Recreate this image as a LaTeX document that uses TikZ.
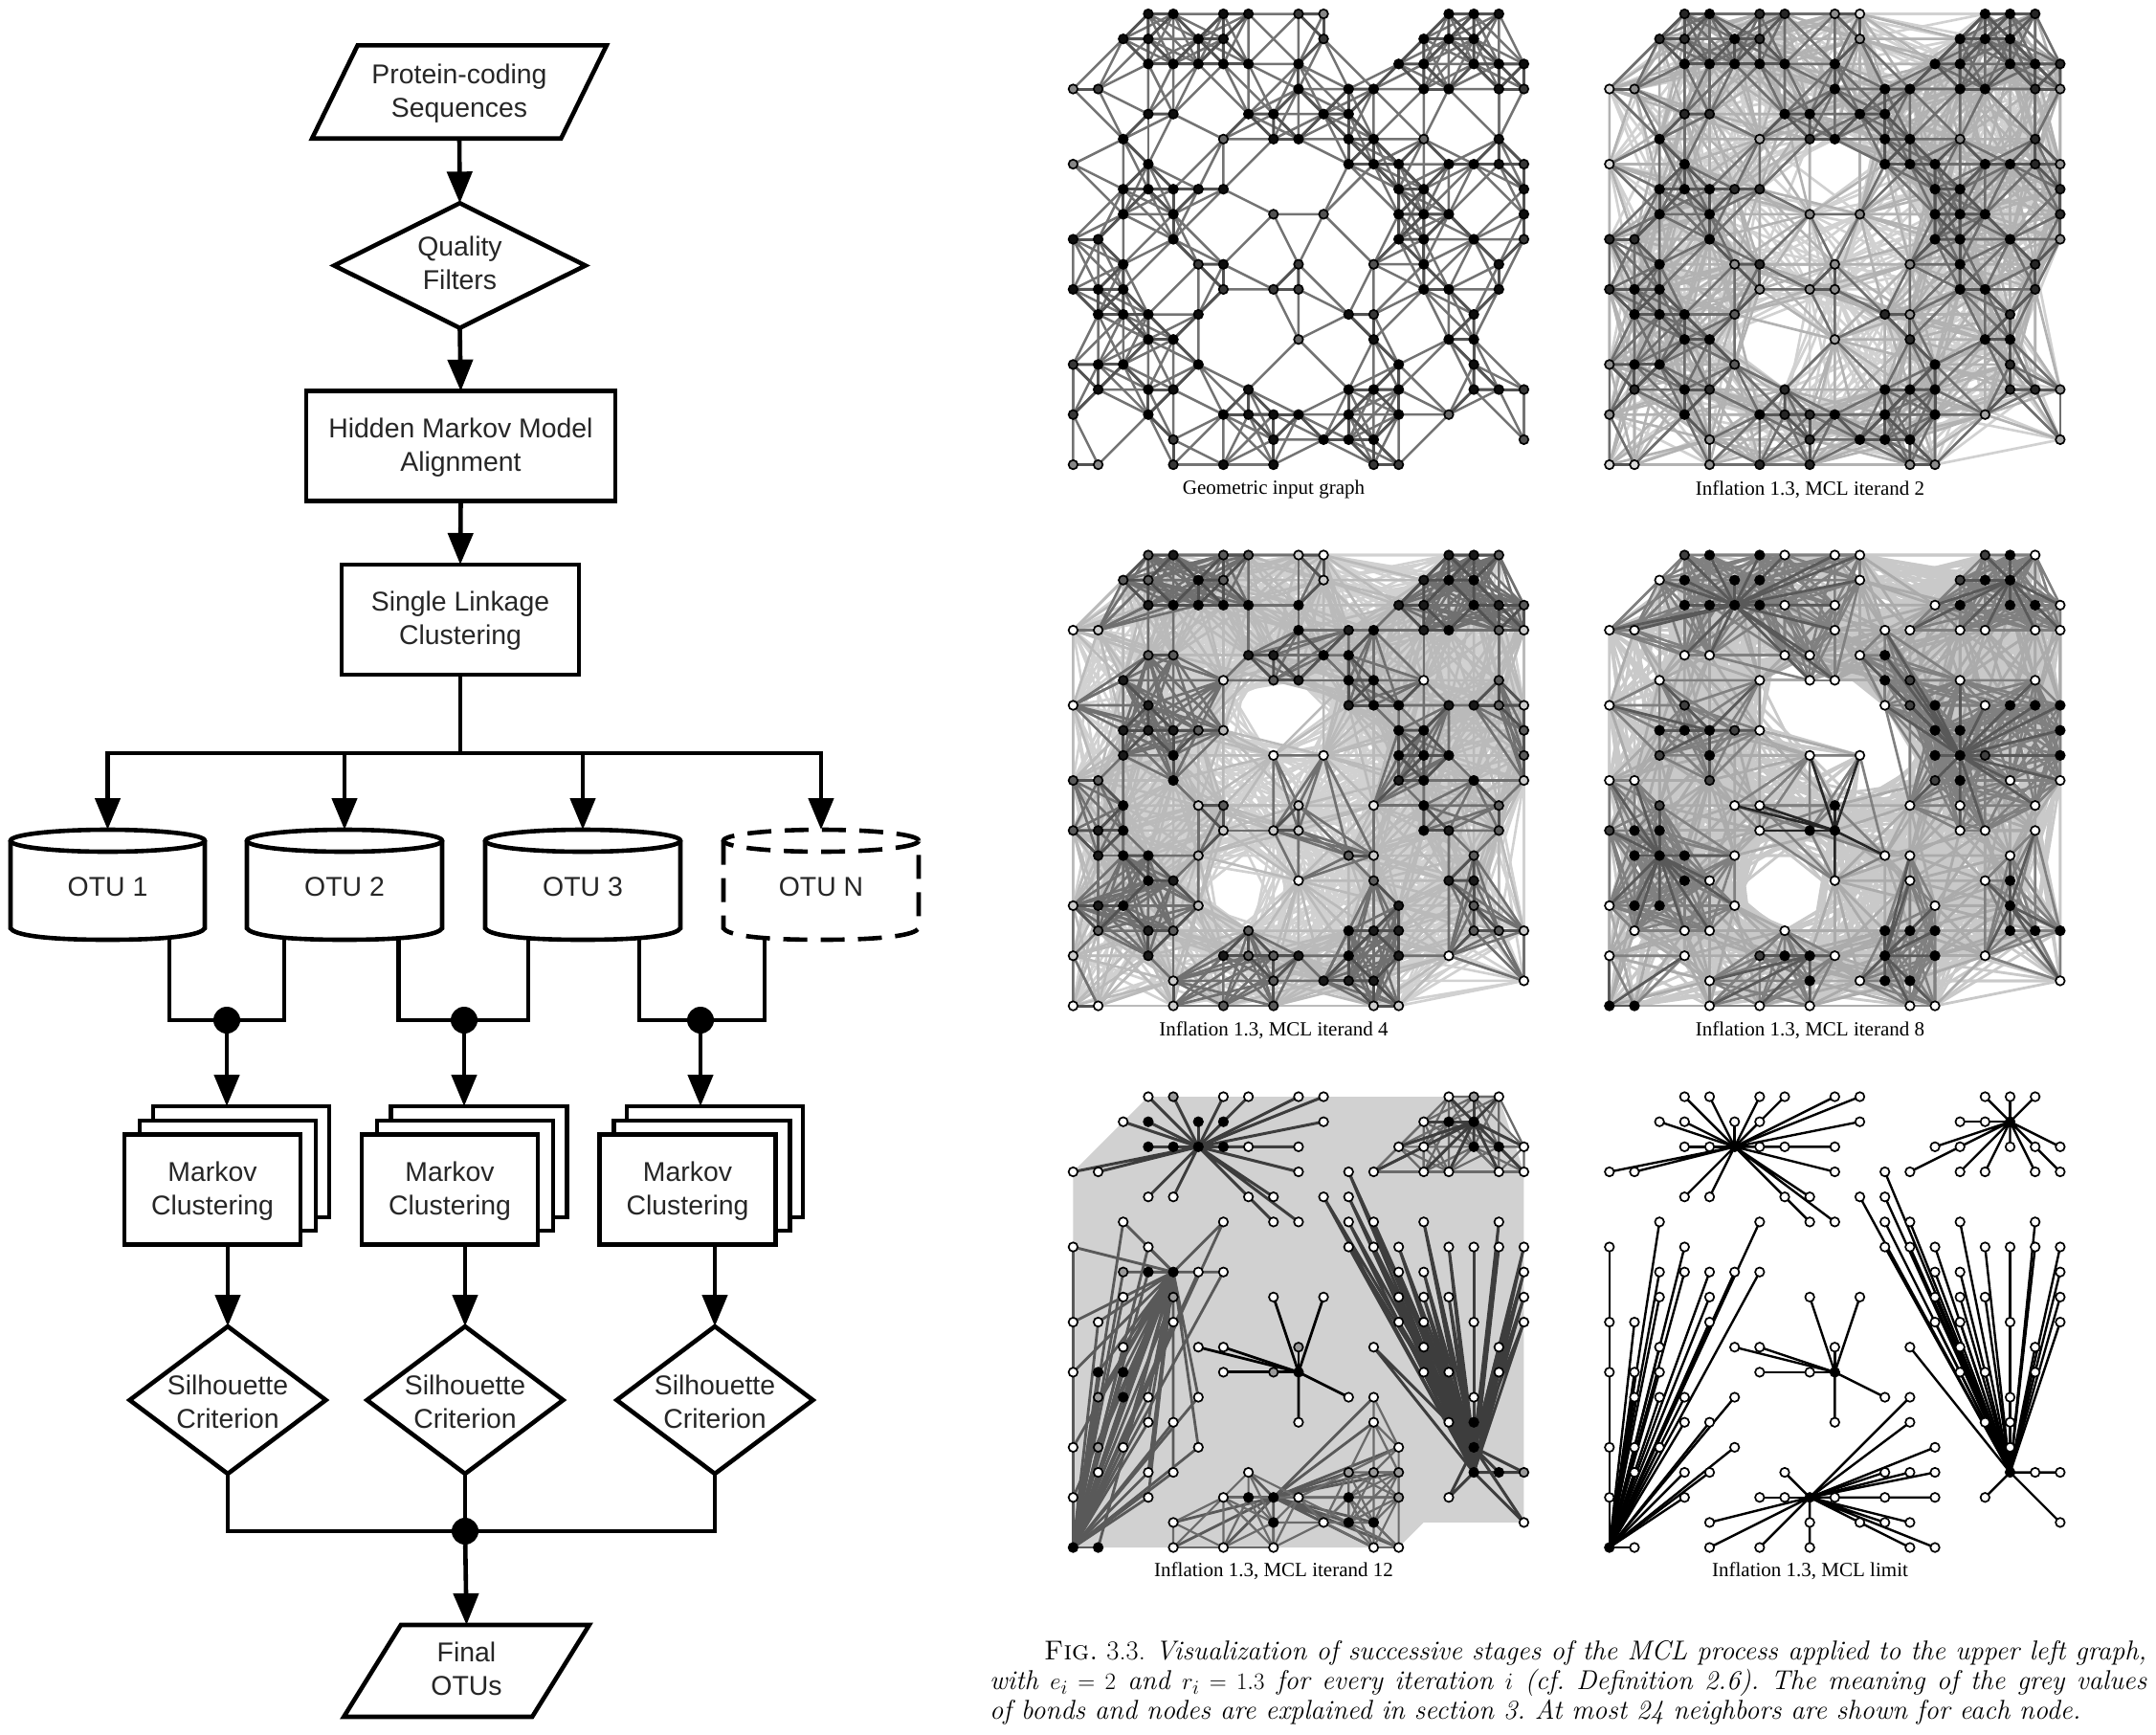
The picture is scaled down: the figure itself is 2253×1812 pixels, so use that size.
\documentclass[tikz,border=0pt]{standalone}
\usepackage{fontspec}
\usetikzlibrary{arrows.meta,shapes.geometric}
\newfontfamily\hvfont{Liberation Sans}
\newfontfamily\tmfont{Liberation Serif}
\pgfdeclarelayer{edges}
\pgfsetlayers{edges,main}
\makeatletter
\newcount\Nn \newcount\uu \newcount\vv \newcount\dd \newcount\dxx \newcount\dyy
\newcount\lay \newcount\ux \newcount\uy \newcount\uc \newcount\ug \newcount\us
\newcount\vx \newcount\vy \newcount\vc \newcount\vg \newcount\vs
\newcount\best \newcount\si \newcount\tmpd \newcount\NNp \newcount\gmax \newcount\dmax
\newcount\dotv \newcount\crs \newcount\smp
\newif\ifhit
\def\Rw#1#2#3{\@for\tmpv:=#3\do{\global\advance\Nn 1
  \expandafter\xdef\csname gx\the\Nn\endcsname{\tmpv}%
  \expandafter\xdef\csname gy\the\Nn\endcsname{#1}%
  \expandafter\xdef\csname gc\the\Nn\endcsname{#2}}}
\def\Ov#1#2#3{\@for\tmpv:=#3\do{\expandafter\ovaux\tmpv\@nil{#1}{#2}}}
\def\ovaux#1/#2\@nil#3#4{\expandafter\xdef\csname st#3-#1-#2\endcsname{#4}}
% clusters 1=A 2=B 3=C 4=D 5=E 6=F
\Rw{0}{1}{3,4,6,7,9,10}\Rw{0}{2}{15,16,17}
\Rw{1}{1}{2,3,5,6,10}\Rw{1}{2}{14,15,16}
\Rw{2}{1}{3,4,5,6,7,9}\Rw{2}{2}{13,14,16,17,18}
\Rw{3}{1}{0,1,9}\Rw{3}{6}{11}\Rw{3}{2}{12,14,15,17,18}
\Rw{4}{1}{3,4,7,8}\Rw{4}{6}{10,11}
\Rw{5}{4}{2,6}\Rw{5}{1}{8,9}\Rw{5}{6}{11,12,14,17}
\Rw{6}{4}{0,3}\Rw{6}{6}{11,12,13,15,16,17,18}
\Rw{7}{4}{2,3,4,5,6}\Rw{7}{6}{13,14,18}
\Rw{8}{4}{2,4}\Rw{8}{3}{8,10}\Rw{8}{6}{13,14,15,18}
\Rw{9}{4}{0,1,4}\Rw{9}{6}{13,14,16,18}
\Rw{10}{4}{2}\Rw{10}{3}{5,6,9}\Rw{10}{6}{12,14,17}
\Rw{11}{4}{0,1,2}\Rw{11}{3}{6,8,9}\Rw{11}{6}{14,15,17}
\Rw{12}{4}{1,2,3,5}\Rw{12}{3}{11}\Rw{12}{5}{12}\Rw{12}{6}{16}
\Rw{13}{4}{3,4}\Rw{13}{3}{9}\Rw{13}{5}{12}\Rw{13}{6}{15,16}
\Rw{14}{4}{0,1,2,5}\Rw{14}{5}{13}\Rw{14}{6}{16}
\Rw{15}{4}{1,3,4}\Rw{15}{5}{7,11,12,13}\Rw{15}{6}{16,17,18}
\Rw{16}{4}{0,3}\Rw{16}{5}{6,7,8,9,11,13}\Rw{16}{6}{15}
\Rw{17}{5}{4,8,10,11,12}\Rw{17}{6}{18}
\Rw{18}{4}{0,1}\Rw{18}{5}{4,6,8,12,13}
\NNp=\Nn \advance\NNp 1
\edef\NNm{\the\Nn}
% degree of every node in the input graph
\uu=1
\@whilenum\uu<\NNp\do{\vv=1 \tmpd=-1
  \@whilenum\vv<\NNp\do{%
    \dxx=\numexpr\csname gx\the\uu\endcsname-\csname gx\the\vv\endcsname\relax
    \dyy=\numexpr\csname gy\the\uu\endcsname-\csname gy\the\vv\endcsname\relax
    \ifnum\numexpr\dxx*\dxx+\dyy*\dyy\relax<9 \advance\tmpd 1 \fi
    \advance\vv 1}%
  \expandafter\xdef\csname deg\the\uu\endcsname{\the\tmpd}%
  \advance\uu 1}
\def\SD#1#2#3{\advance\si 1
  \ifnum#3=0 \testseed{#1}{#2}\else\ifnum#3=\uc \testseed{#1}{#2}\fi\fi}
\def\testseed#1#2{\tmpd=\numexpr(\ux-#1)*(\ux-#1)+(\uy-#2)*(\uy-#2)\relax
  \ifnum\tmpd<\best \best=\tmpd \ug=\si \fi \ifnum\tmpd=0 \us=1 \fi}
\def\calcgroups{\uu=1
  \@whilenum\uu<\NNp\do{%
    \ux=\csname gx\the\uu\endcsname\relax
    \uy=\csname gy\the\uu\endcsname\relax
    \uc=\csname gc\the\uu\endcsname\relax
    \best=100000 \ug=0 \us=0 \si=0 \seedlist
    \ifnum\best>\gmax \ug=0 \fi
    \expandafter\xdef\csname gg\the\uu\endcsname{\the\ug}%
    \expandafter\xdef\csname gs\the\uu\endcsname{\the\us}%
    \advance\uu 1}}
\def\hole#1#2#3{\ifhit\else
  \dotv=\numexpr 2*\dxx*(#1-2*\ux)+2*\dyy*(#2-2*\uy)\relax
  \crs=\numexpr 2*\dxx*(#2-2*\uy)-2*\dyy*(#1-2*\ux)\relax
  \ifnum\dotv>0 \ifnum\dotv<\numexpr4*\dd\relax
    \ifnum\numexpr\crs*\crs\relax<\numexpr#3*4*\dd\relax \hittrue\fi\fi\fi
  \fi}
\def\lightrule{\hitfalse\holes \ifhit\else \ifnum\dd<19 \lay=2 \else \lay=1 \fi\fi}
\def\ruleA{\ifnum\dd<3 \lay=4 \else \lay=3 \fi}
\def\ruleB{\ifnum\dd<3 \lay=4 \else\ifnum\dd<9 \lay=3 \else\lightrule\fi\fi}
\def\ruleC{\ifnum\ug=\vg\ifnum\ug>0 \ifnum\dd<21 \lay=3 \ifnum\dd<3 \lay=4 \fi\fi\fi\fi
  \ifnum\lay=0 \ifnum\dd<5 \lay=3 \else\lightrule\fi\fi}
\def\ruleD{\ifnum\ug=\vg\ifnum\ug>0
    \ifnum\dd<19 \lay=3 \fi
    \ifnum\numexpr\us+\vs\relax>0 \ifnum\uc=3 \lay=5 \else \lay=4 \fi\fi
  \fi\fi
  \ifnum\lay=0 \ifnum\dd<5 \lay=2 \else
    \tmpd=\numexpr\ux+3*\uy+5*\vx+7*\vy\relax
    \smp=\tmpd \divide\smp 3 \multiply\smp 3
    \ifnum\smp=\tmpd\else\lightrule\fi
  \fi\fi}
\def\ruleE{\ifnum\uc=\vc
  \ifnum\numexpr\us+\vs\relax>0
    \ifcase\uc\or\lay=4 \or\lay=4 \or\lay=5 \or\lay=2 \or\lay=2 \or\lay=4 \fi
  \else\ifnum\dd<9 \ifnum\uc=2 \lay=3 \fi \ifnum\uc=5 \lay=3 \fi\fi\fi\fi}
\def\ruleF{\ifnum\uc=\vc \ifnum\numexpr\us+\vs\relax>0 \lay=4 \fi\fi}
\def\classify{%
  \vx=\csname gx\the\vv\endcsname\relax
  \vy=\csname gy\the\vv\endcsname\relax
  \dxx=\numexpr\vx-\ux\relax \dyy=\numexpr\vy-\uy\relax
  \dd=\numexpr\dxx*\dxx+\dyy*\dyy\relax
  \lay=0
  \ifnum\dd<\dmax
    \vc=\csname gc\the\vv\endcsname\relax
    \vg=\csname gg\the\vv\endcsname\relax
    \vs=\csname gs\the\vv\endcsname\relax
    \edgerule
    \ifnum\lay>0
      \expandafter\xdef\csname L\the\lay e\the\uu\endcsname{\csname L\the\lay e\the\uu\endcsname(P\pid-\the\uu.center)--(P\pid-\the\vv.center) }%
    \fi
  \fi}
\def\calcedges{\uu=1
  \@whilenum\uu<\NNp\do{%
    \expandafter\gdef\csname L1e\the\uu\endcsname{}%
    \expandafter\gdef\csname L2e\the\uu\endcsname{}%
    \expandafter\gdef\csname L3e\the\uu\endcsname{}%
    \expandafter\gdef\csname L4e\the\uu\endcsname{}%
    \expandafter\gdef\csname L5e\the\uu\endcsname{}%
    \ux=\csname gx\the\uu\endcsname\relax
    \uy=\csname gy\the\uu\endcsname\relax
    \uc=\csname gc\the\uu\endcsname\relax
    \ug=\csname gg\the\uu\endcsname\relax
    \us=\csname gs\the\uu\endcsname\relax
    \vv=\uu \advance\vv 1
    \@whilenum\vv<\NNp\do{\classify\advance\vv 1}%
    \advance\uu 1}}
\def\pickfill{\ifcsname st\pid-\ix-\iy\endcsname
    \edef\fillv{\csname st\pid-\ix-\iy\endcsname}\else\deffill\fi}
\def\dopanel#1#2#3{\def\pid{#1}\calcgroups
  \foreach \ii in {1,...,\NNm}{%
    \edef\ix{\csname gx\ii\endcsname}\edef\iy{\csname gy\ii\endcsname}%
    \pickfill
    \node[gn,fill=black!\fillv] (P#1-\ii) at ({#2+\ix*26.17},{#3+\iy*26.17}) {};}
  \calcedges
  \begin{pgfonlayer}{edges}
    \prehook
    \foreach \lv in {1,...,5}{\foreach \ii in {1,...,\NNm}{%
      \edef\tmpe{\csname L\lv e\ii\endcsname}%
      \ifx\tmpe\empty\else
        \edef\tmpf{\noexpand\draw[g#1l\lv]\tmpe;}\tmpf
      \fi}}
  \end{pgfonlayer}}
\def\degfill#1#2#3#4#5{\edef\dg{\csname deg\ii\endcsname}%
  \ifnum\dg<4 \def\fillv{#1}\else\ifnum\dg<7 \def\fillv{#2}\else
  \ifnum\dg<9 \def\fillv{#3}\else\ifnum\dg<11 \def\fillv{#4}\else\def\fillv{#5}\fi\fi\fi\fi}
\makeatother
% per-panel node greys (percent black)
\Ov{1}{47}{0/6}\Ov{1}{60}{6/5,14/5,15/16,9/13}\Ov{1}{68}{18/17,8/8,10/8,12/10}
\Ov{2}{14}{0/6}\Ov{2}{35}{6/5,15/16,18/17,9/13}\Ov{2}{50}{14/5,8/8,10/8,12/10}\Ov{2}{65}{5/12,5/14}
\Ov{3}{0}{0/6,14/5,9/13,15/16,18/17,8/8,10/8}\Ov{3}{8}{6/5,12/10}\Ov{3}{28}{5/12,5/14,6/7}
\Ov{4}{100}{4/0,6/0,3/1,5/1,6/1,3/2,4/2,5/2,6/2,16/0,15/1,16/1,14/2,16/2,17/2,2/7,3/7,4/7,4/8,1/11,2/11,1/12,2/12,3/12,3/13,1/14,2/14,8/11,9/11,9/10,13/7,14/7,13/8,14/8,14/9,13/6,16/6,17/6,18/6,18/7,18/8,11/4,11/5,7/16,8/16,8/17,11/15,12/15,13/15,11/16,13/16,11/17,12/17,16/13,16/14,16/15,17/15,18/15,0/18,1/18}
\Ov{4}{75}{3/0,15/0,14/1,12/5,3/6,5/7,2/8,4/9,2/10,6/16,12/6,13/9,0/11,15/8}
\Ov{5}{100}{3/1,5/1,6/1,3/2,4/2,5/2,6/2,15/1,16/1,16/2,17/2,3/7,4/7,1/11,2/11,2/12,9/11,7/16,8/16,11/16,8/17,11/17,12/17,16/13,16/14,16/15,17/15,0/18,1/18}
\Ov{5}{40}{4/0,16/0,2/7,4/8,1/12,1/14,8/11,9/10,11/15,12/15,13/15,13/16,18/15}
\Ov{6}{100}{5/2,16/1,9/11,0/18,8/16,16/15}
\tikzset{
  conn/.style={line width=4.6pt,line join=miter},
  arr/.style={conn,-{Triangle[length=33pt,width=26pt]}},
  fltext/.style={font=\hvfont\fontsize{28.4}{35}\selectfont,text=black!85,align=center},
  rbox/.style={draw,fltext,line width=4.6pt,fill=white,inner sep=0pt,outer sep=0pt},
  dia/.style={diamond,draw,fltext,line width=4.6pt,fill=white,inner xsep=-12pt,inner ysep=0pt,outer sep=0pt},
  para/.style={trapezium,trapezium stretches=true,draw,fltext,line width=4.6pt,inner sep=0pt,outer sep=0pt},
  jdot/.style={circle,fill=black,inner sep=0pt,minimum size=28pt},
  otu/.style={fltext,inner sep=0pt,outer sep=0pt,minimum width=203pt,minimum height=120pt},
  gn/.style={circle,draw=black,line width=1.7pt,minimum size=9.5pt,inner sep=0pt,outer sep=0pt},
  capt/.style={font=\tmfont\fontsize{21}{24}\selectfont,text=black,inner sep=0pt},
  g1l3/.style={draw=black!55,line width=2.5pt},
  g1l4/.style={draw=black!68,line width=3pt},
  g2l1/.style={draw=black!18,line width=2.6pt},
  g2l2/.style={draw=black!30,line width=2.6pt},
  g2l3/.style={draw=black!57,line width=2.6pt},
  g2l4/.style={draw=black!66,line width=3pt},
  g3l1/.style={draw=black!18,line width=2.6pt},
  g3l2/.style={draw=black!27,line width=2.6pt},
  g3l3/.style={draw=black!56,line width=2.6pt},
  g3l4/.style={draw=black!68,line width=3pt},
  g4l1/.style={draw=black!21,line width=2.8pt},
  g4l2/.style={draw=black!33,line width=2.8pt},
  g4l3/.style={draw=black!50,line width=2.6pt},
  g4l4/.style={draw=black!65,line width=2.8pt},
  g4l5/.style={draw=black!85,line width=2.6pt},
  g5l2/.style={draw=black!65,line width=2.8pt},
  g5l3/.style={draw=black!58,line width=2.2pt},
  g5l4/.style={draw=black!76,line width=3pt},
  g5l5/.style={draw=black,line width=2.8pt},
  g6l4/.style={draw=black,line width=2.4pt},
}
\newcommand\cylpath[3]{% left, right, options
  \draw[line width=4.6pt,#3] ({(#1+#2)/2},878.5) ellipse [x radius={(#2-#1)/2*1pt},y radius=11.5pt];
  \draw[line width=4.6pt,#3] (#1,878.5) -- (#1,970) .. controls (#1+4,977) and (#1+35,982) .. ({(#1+#2)/2},982)
    .. controls (#2-35,982) and (#2-4,977) .. (#2,970) -- (#2,878.5);}
% strut-like rules that nudge a two-line label down or up inside its node
\newcommand\dn{\rule{0pt}{23.5pt}}
\newcommand\up[1]{\rule[-#1pt]{0pt}{#1pt}}
\begin{document}
\begin{tikzpicture}[x=1pt,y=-1pt]
\useasboundingbox (0,0) rectangle (2253,1812);
\begin{pgfonlayer}{edges}\fill[white] (0,0) rectangle (2253,1812);\end{pgfonlayer}
% ---------- flow chart ----------
\node[para,trapezium left angle=57.5,trapezium right angle=122.5,minimum width=308pt,minimum height=97.4pt] (input) at (480,96) {\dn Protein-coding\\Sequences};
\node[dia,minimum width=262.5pt,minimum height=130.4pt,aspect=2] (qual) at (480.5,277.5) {Quality\\Filters\up{6}};
\node[rbox,minimum width=323pt,minimum height=114.5pt] (hmm) at (481.5,466) {\dn Hidden Markov Model\\Alignment};
\node[rbox,minimum width=248pt,minimum height=115pt] (sl) at (481,647.5) {\dn Single Linkage\\Clustering};
\draw[arr] (input.south) -- (qual.north);
\draw[arr] (qual.south) -- (hmm.north);
\draw[arr] (hmm.south) -- (sl.north);
\coordinate (bus) at (481,787);
\node[otu] (o1) at (112.5,927) {OTU 1};
\node[otu] (o2) at (360,927) {OTU 2};
\node[otu] (o3) at (609,927) {OTU 3};
\node[otu] (o4) at (858,927) {OTU N};
\draw[conn] (sl.south) -- (bus);
\draw[arr] (bus) -| (o1.north);
\draw[arr] (bus) -| (o2.north);
\draw[arr] (bus) -| (o3.north);
\draw[arr] (bus) -| (o4.north);
\cylpath{11}{214}{}
\cylpath{258}{462}{}
\cylpath{507}{711}{}
\cylpath{756}{960}{dash pattern=on 25pt off 14pt}
\node[jdot] (d1) at (237,1066) {};
\node[jdot] (d2) at (485,1066) {};
\node[jdot] (d3) at (732,1066) {};
\coordinate (a1) at (177,982); \coordinate (b1) at (297,982);
\coordinate (a2) at (416.5,982); \coordinate (b2) at (552,982);
\coordinate (a3) at (668,982); \coordinate (b3) at (799,982);
\draw[conn] (a1) |- (d1.center) -| (b1);
\draw[conn] (a2) |- (d2.center) -| (b2);
\draw[conn] (a3) |- (d3.center) -| (b3);
\foreach \n/\xa/\xb/\xc in {1/252/238/222,2/500.5/486/470,3/747/733.5/718.5}{
  \node[rbox,minimum width=184pt,minimum height=116pt] (kb\n) at (\xa,1214) {};
  \node[rbox,minimum width=184pt,minimum height=115pt] (km\n) at (\xb,1228.5) {};
}
\node[rbox,minimum width=184pt,minimum height=114.5pt] (k1) at (222,1243) {\dn Markov\\Clustering};
\node[rbox,minimum width=184pt,minimum height=114.5pt] (k2) at (470,1243) {\dn Markov\\Clustering};
\node[rbox,minimum width=184pt,minimum height=114.5pt] (k3) at (718.5,1243) {\dn Markov\\Clustering};
\draw[arr] (d1) -- (d1 |- kb1.north);
\draw[arr] (d2) -- (d2 |- kb2.north);
\draw[arr] (d3) -- (d3 |- kb3.north);
\node[dia,minimum width=205pt,minimum height=154pt,aspect=1.33] (s1) at (238,1463) {\dn Silhouette\\Criterion};
\node[dia,minimum width=205pt,minimum height=154pt,aspect=1.33] (s2) at (486,1463) {\dn Silhouette\\Criterion};
\node[dia,minimum width=205pt,minimum height=154pt,aspect=1.33] (s3) at (747,1463) {\dn Silhouette\\Criterion};
\draw[arr] (k1.south -| s1.north) -- (s1.north);
\draw[arr] (k2.south -| s2.north) -- (s2.north);
\draw[arr] (k3.south -| s3.north) -- (s3.north);
\node[jdot] (d4) at (486,1600) {};
\node[para,trapezium left angle=62,trapezium right angle=118,minimum width=257pt,minimum height=96pt] (out) at (487.5,1746) {Final\\OTUs\up{5}};
\draw[conn] (s1.south) |- (d4.center) -| (s3.south);
\draw[conn] (s2.south) -- (d4);
\draw[arr] (d4) -- (out.north);
% ---------- graph panels ----------
\def\prehook{}
% panel 1
\def\seedlist{}\def\holes{}\let\edgerule\ruleA \dmax=9 \gmax=0
\def\deffill{\degfill{47}{78}{95}{100}{100}}
\dopanel{1}{1121.4}{14.5}
% panel 2
\def\holes{\hole{18}{12}{3}\hole{13}{27}{3}}\let\edgerule\ruleB \dmax=33
\def\deffill{\degfill{14}{45}{85}{100}{100}}
\dopanel{2}{1681.8}{14.5}
% panel 3
\def\seedlist{\SD{5}{1}{0}\SD{9}{1}{0}\SD{16}{1}{0}\SD{9}{4}{0}\SD{12}{5}{0}\SD{14}{8}{0}\SD{17}{7}{0}\SD{4}{7}{0}\SD{1}{10}{0}\SD{2}{14}{0}\SD{7}{17}{0}\SD{12}{16}{0}\SD{9}{10}{0}\SD{6}{11}{0}\SD{16}{14}{0}\SD{0}{17}{0}\SD{15}{10}{0}}
\def\holes{\hole{15}{12}{2}\hole{18}{12}{2}\hole{13}{27}{3}}\let\edgerule\ruleC \dmax=46 \gmax=20
\def\deffill{\degfill{0}{20}{65}{90}{100}}
\dopanel{3}{1121.4}{580}
% panel 4
\def\seedlist{\SD{5}{2}{1}\SD{16}{1}{2}\SD{9}{11}{3}\SD{4}{7}{4}\SD{2}{12}{4}\SD{0}{18}{4}\SD{8}{16}{5}\SD{11}{16}{5}\SD{14}{8}{6}\SD{16}{14}{6}}
\def\holes{\hole{15}{11}{5}\hole{18}{12}{6}\hole{21}{16}{6}\hole{14}{27}{6}}\let\edgerule\ruleD \dmax=71 \gmax=100000
\def\deffill{\def\fillv{0}}
\dopanel{4}{1681.8}{580}
% panel 5
\def\seedlist{\SD{5}{2}{1}\SD{16}{1}{2}\SD{9}{11}{3}\SD{0}{18}{4}\SD{4}{7}{4}\SD{8}{16}{5}\SD{16}{15}{6}\SD{16}{14}{6}}
\def\holes{}\let\edgerule\ruleE \dmax=1000
\def\prehook{\begin{scope}[shift={(1121.4,1146)},x=26.17pt,y=-26.17pt]
  \fill[black!18] (3,0) -- (17,0) -- (18,3) -- (18,17) -- (14,17) -- (13,18) -- (0,18) -- (0,3) -- (2,1) -- cycle;
\end{scope}}
\dopanel{5}{1121.4}{1146}
% panel 6
\def\prehook{}
\def\seedlist{\SD{5}{2}{1}\SD{16}{1}{2}\SD{9}{11}{3}\SD{0}{18}{4}\SD{8}{16}{5}\SD{16}{15}{6}}
\let\edgerule\ruleF
\dopanel{6}{1681.8}{1146}
% ---------- captions ----------
\node[capt] (c1) at (1331,511.5) {Geometric input graph};
\node[capt] (c2) at (1891.5,511.5) {Inflation 1.3, MCL iterand 2};
\node[capt] (c3) at (1331,1076.5) {Inflation 1.3, MCL iterand 4};
\node[capt] (c4) at (1891.5,1076.5) {Inflation 1.3, MCL iterand 8};
\node[capt] (c5) at (1331,1642) {Inflation 1.3, MCL iterand 12};
\node[capt] (c6) at (1891.5,1642) {Inflation 1.3, MCL limit};
\node[anchor=north west,inner sep=0pt] (fig) at (1034,1714) {\vbox{\fontsize{28.5}{31}\selectfont\itshape
  \hbox to 1209pt{\hskip 57pt\textup{\textsc{Fig.}\ 3.3.}\ Visualization of successive stages of the MCL process applied to the upper left graph,}
  \hbox to 1209pt{with $e_i=2$ and $r_i=1.3$ for every iteration $i$ (cf.\ Definition 2.6).\ The meaning of the grey values}
  \hbox to 1209pt{of bonds and nodes are explained in section 3.\ At most 24 neighbors are shown for each node.\hfil}}};
\end{tikzpicture}
\end{document}
